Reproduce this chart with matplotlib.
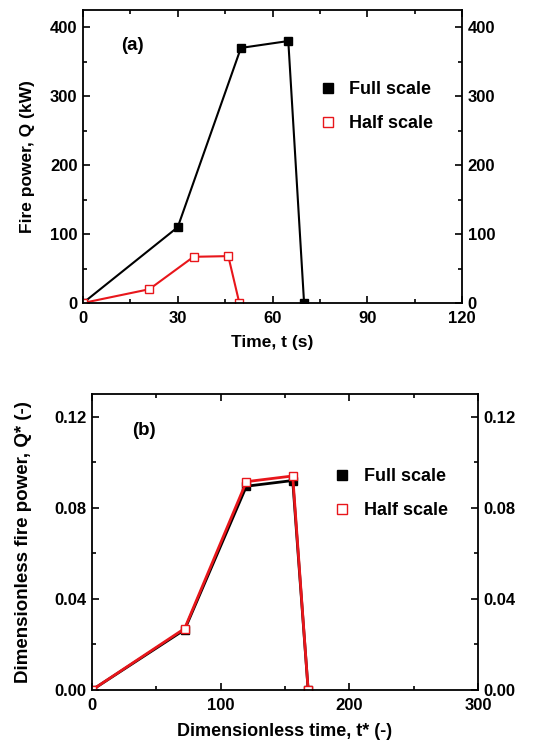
import numpy as np
import matplotlib.pyplot as plt
from matplotlib.ticker import MultipleLocator

plt.rcParams['font.family'] = ['Liberation Sans', 'DejaVu Sans']
plt.rcParams['font.weight'] = 'bold'

# (a) dimensional fire power
t_full = [0, 30, 50, 65, 70]
q_full = [0, 110, 370, 380, 0]
t_half = [0, 21, 35, 46, 49.5]
q_half = [0, 20, 67, 68, 0]

# (b) dimensionless fire power
ts_full = [0, 72, 120, 156, 168]
qs_full = [0, 0.0265, 0.0895, 0.092, 0]
ts_half = [0, 72, 120, 156, 168]
qs_half = [0, 0.027, 0.0915, 0.094, 0]

fig = plt.figure(figsize=(5.42, 7.40), dpi=100)
W, H = 542, 740
ax1 = fig.add_axes([83 / W, 1 - 303 / H, 379 / W, 293 / H])
ax2 = fig.add_axes([92 / W, 1 - 690 / H, 386 / W, 296 / H])


def style(ax):
    ax.tick_params(which='both', direction='in', top=True, right=True,
                   labelright=True, labelsize=12, width=1.2, pad=4)
    ax.tick_params(axis='x', which='both', pad=6)
    ax.tick_params(which='major', length=5)
    ax.tick_params(which='minor', length=3)
    for s in ax.spines.values():
        s.set_linewidth(1.3)
    for lab in ax.get_xticklabels() + ax.get_yticklabels():
        lab.set_fontweight('bold')


def legend(ax, x, y):
    leg = ax.legend(loc='upper left', bbox_to_anchor=(x, y), frameon=False,
                    handlelength=1.0, handletextpad=0.7, labelspacing=0.95,
                    prop={'size': 13, 'weight': 'bold'}, markerscale=1.1)
    for l in leg.get_lines():
        l.set_linestyle('none')


ax = ax1
ax.plot(t_full, q_full, '-s', color='black', lw=1.5, ms=6,
        mfc='black', mec='black', label='Full scale')
ax.plot(t_half, q_half, '-s', color='#e8161b', lw=1.5, ms=6,
        mfc='white', mec='#e8161b', label='Half scale')
ax.set_xlim(0, 120)
ax.set_ylim(0, 425)
ax.xaxis.set_major_locator(MultipleLocator(30))
ax.xaxis.set_minor_locator(MultipleLocator(15))
ax.yaxis.set_major_locator(MultipleLocator(100))
ax.yaxis.set_minor_locator(MultipleLocator(50))
ax.set_xlabel('Time, t (s)', fontsize=12.5, fontweight='bold', labelpad=6)
ax.set_ylabel('Fire power, Q (kW)', fontsize=12.5, fontweight='bold', labelpad=11)
ax.text(0.1, 0.88, '(a)', transform=ax.transAxes, fontsize=13.5,
        fontweight='bold', va='center')
legend(ax, 0.579, 0.813)
style(ax)

ax = ax2
ax.plot(ts_full, qs_full, '-s', color='black', lw=2, ms=6,
        mfc='black', mec='black', label='Full scale')
ax.plot(ts_half, qs_half, '-s', color='#e8161b', lw=2, ms=6,
        mfc='white', mec='#e8161b', label='Half scale')
ax.set_xlim(0, 300)
ax.set_ylim(0, 0.13)
ax.xaxis.set_major_locator(MultipleLocator(100))
ax.xaxis.set_minor_locator(MultipleLocator(50))
ax.yaxis.set_major_locator(MultipleLocator(0.04))
ax.yaxis.set_minor_locator(MultipleLocator(0.02))
ax.yaxis.set_major_formatter(plt.FormatStrFormatter('%.2f'))
ax.set_xlabel('Dimensionless time, t* (-)', fontsize=13, fontweight='bold', labelpad=7)
ax.set_ylabel('Dimensionless fire power, Q* (-)', fontsize=13.5, fontweight='bold',
              labelpad=16)
ax.text(0.105, 0.878, '(b)', transform=ax.transAxes, fontsize=13.5,
        fontweight='bold', va='center')
legend(ax, 0.582, 0.804)
style(ax)

fig.savefig('out.png', dpi=100)
